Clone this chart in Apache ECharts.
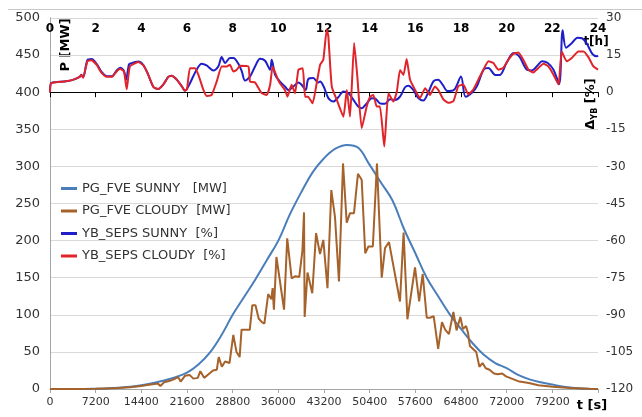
<!DOCTYPE html>
<html>
<head>
<meta charset="utf-8">
<script src="https://cdn.jsdelivr.net/npm/echarts/dist/echarts.min.js"></script>
<style>html,body{margin:0;padding:0;background:#fff}#c{width:642px;height:417px}</style>
</head>
<body>
<div id="c"></div>
<script>
// ---- data ----
var seriesNames = ['PG_FVE SUNNY   [MW]', 'PG_FVE CLOUDY  [MW]', 'YB_SEPS SUNNY  [%]', 'YB_SEPS CLOUDY  [%]'];
var secTicks = [0, 7200, 14400, 21600, 28800, 36000, 43200, 50400, 57600, 64800, 72000, 79200];
var hourTicks = [0, 2, 4, 6, 8, 10, 12, 14, 16, 18, 20, 22, 24];

var tSunny = [0,1800,3600,5400,7200,9000,10800,12600,14400,16200,18000,19800,21600,23400,25200,27000,28800,30600,32400,34200,36000,37800,39600,41400,43200,45000,46800,48600,50400,52200,54000,55800,57600,59400,61200,63000,64800,66600,68400,70200,72000,73800,75600,77400,79200,81000,82800,84600,86400];
var pgSunny = [0,0,0,0,0.3,0.8,1.6,3,5,8,11.5,16,22,33,49,72,100,124,148,174,200,235,265,292,311,324,329,325,302,278,254,216,183,150,125,101,81,62,46,35,28,19,13,9,6,3,1.5,0.5,0];

var tCloudy = [0,3600,7200,10800,12600,14400,15300,16200,17000,17400,18000,18900,19500,20200,20600,21300,22000,22600,23300,23700,24300,25000,25700,26300,26600,27100,27600,28300,28900,29400,29900,30200,31000,31500,31900,32400,32900,33400,33800,34400,34900,35100,35300,35700,36900,37400,38100,38700,39300,39800,40050,40150,40600,41350,41950,42570,43090,43750,44350,44930,45560,46200,46780,47300,47930,48550,49140,49700,50200,50900,51550,52300,52820,53450,55180,55750,56350,57550,58200,58760,59400,59900,60500,61200,61800,62300,62900,63600,64100,64700,65100,65600,65900,66200,67200,67700,68200,68700,69300,70000,70600,71300,71900,72800,74000,75500,77000,79300,82000,85000,86400];
var pgCloudy = [0,0,0.2,1.2,2.5,4,5.5,6.5,7.5,4,9,11,13,16,10,18,19,14,15,24,15,20,25,26,43,30,37,35,73,50,43,80,80,80,113,113,95,90,88,128,121,136,107,178,107,203,149,152,151,187,238,97,157,129,210,182,201,136,268,232,145,304,224,237,237,290,282,183,192,192,304,150,190,198,118,211,94,164,118,155,96,96,98,54,90,80,74,104,79,97,81,85,76,58,50,30,35,28,26,21,20,21,17,14,10,8,5,3,1.5,0.3,0];

var hYbSunny = [0,0.05,0.7,1.0,1.3,1.37,1.45,1.64,1.82,2.04,2.26,2.48,2.7,2.92,3.07,3.24,3.33,3.45,3.5,3.87,4.09,4.3,4.53,4.74,4.96,5.18,5.33,5.55,5.77,5.91,6.0,6.13,6.42,6.64,6.86,7.15,7.37,7.52,7.67,7.88,8.03,8.25,8.4,8.54,8.76,8.98,9.2,9.42,9.64,9.71,9.86,10.07,10.29,10.44,10.66,10.88,11.02,11.2,11.31,11.53,11.75,11.83,12.0,12.19,12.41,12.63,12.85,13.07,13.29,13.5,13.65,13.87,14.09,14.25,14.45,14.67,14.89,15.1,15.33,15.55,15.7,15.91,16.13,16.35,16.57,16.8,17.0,17.2,17.4,17.7,18.0,18.2,18.5,18.7,19.0,19.2,19.5,19.7,20.0,20.3,20.55,20.9,21.1,21.35,21.55,21.8,22.05,22.3,22.45,22.6,22.85,23.1,23.3,23.5,23.75,23.95,24];
var ybSunny = [0,3.7,4.4,5,6.2,7.1,6.0,13,13.4,11.5,8.2,6.5,6.4,8.8,9.9,8.6,5,11,11.5,12.4,11,7.1,2.1,1.3,3.1,6.2,6.7,5.1,2.4,0.6,1.4,3.6,9.1,11.5,10.8,8.8,10.4,14.2,11.8,13.8,13.8,11.5,8.4,4.7,6.3,10.4,13.5,12.7,9.1,13.1,7,4.3,2.3,0.9,2.3,3.9,3,0.9,5.3,5.7,3.9,4.3,2,-2.4,-3.8,-2,0.3,-0.4,-3.1,-5.8,-6.5,-4.5,-2.4,-2.6,-4.5,-4.7,-2.8,-3.2,-1.8,2,2.6,0.9,-2.4,-3.4,0,4.5,5,3,0.5,1,6.3,-1.8,0,2.5,9.3,9.8,7,7,12,15.8,14.5,9,8.8,10.8,12.5,11.8,9.1,3.3,25,18,19.8,22,21.8,19.8,15.5,14.5,14.8];

var hYbCloudy = [0,0.05,0.7,1.0,1.3,1.37,1.45,1.64,1.82,2.04,2.26,2.48,2.7,2.92,3.07,3.24,3.36,3.5,3.87,4.09,4.3,4.53,4.74,4.96,5.18,5.33,5.55,5.77,5.91,6.0,6.13,6.35,6.5,6.72,6.86,7.08,7.3,7.52,7.74,7.88,8.03,8.18,8.32,8.69,8.76,8.98,9.27,9.49,9.64,9.75,9.93,10.07,10.29,10.4,10.58,10.73,10.88,11.07,11.17,11.3,11.5,11.68,11.83,11.97,12.12,12.19,12.34,12.56,12.85,13.0,13.14,13.32,13.46,13.65,13.87,14.02,14.16,14.31,14.45,14.64,14.82,15.04,15.19,15.33,15.48,15.62,15.77,15.99,16.2,16.43,16.64,16.86,17.0,17.23,17.45,17.67,17.88,18.1,18.32,18.54,18.76,18.98,19.2,19.42,19.63,19.85,20.07,20.29,20.51,20.73,20.95,21.17,21.39,21.61,21.83,22.05,22.27,22.41,22.63,22.85,23.14,23.36,23.58,23.8,24];
var ybCloudy = [0,3.7,4.4,5,6.2,7.1,5.8,12.5,12.9,11.1,7.8,6.2,6.2,8.4,9.5,8.4,1.2,10.4,12.2,10.8,7.1,2.1,1.3,3.1,6.2,6.7,5.1,2.4,0.6,1.2,9.7,9.7,7,0.9,-1.5,-1.1,4.3,10.4,10.4,11.1,8.4,9.1,10.7,10.4,4.3,3.9,-0.4,-1.1,3,10.4,6.3,3.6,0.9,-1.8,3,-0.4,9.1,9.7,-1.8,-1.8,-4.5,3.6,11.1,13.1,25.3,22.6,2.3,-3.1,-9.9,0.9,-9.9,19.9,6.3,-14.6,-5.8,-1.8,-1.1,-5.8,-5.8,-22,-0.4,-3.8,0.3,9,7,13.4,5,0.9,-2.4,1.6,-1.1,2.3,1,-2.9,-4.3,-3.6,2.4,3.1,-0.9,1.1,5.1,9.1,12.5,11.8,9.1,9.8,13.1,15.5,16.1,13.1,9.1,8,9.8,11.5,10.4,7.1,3.1,16.5,12.5,13.8,16.5,16.5,14.2,10.4,9.1];

function zip(a, b) {
  var n = Math.min(a.length, b.length), out = [];
  for (var i = 0; i < n; i++) out.push([a[i], b[i]]);
  return out;
}

var chart = echarts.init(document.getElementById('c'), null, {renderer: 'canvas'});
var FONT = 'DejaVu Sans';
var option = {
  backgroundColor: '#fff',
  animation: false,
  grid: {left: 50, right: 44, top: 18, bottom: 28},
  legend: {
    orient: 'vertical', left: 56, top: 177,
    itemWidth: 16, itemHeight: 3, itemGap: 9.5,
    icon: 'rect',
    data: seriesNames,
    textStyle: {fontFamily: FONT, fontSize: 13, color: '#333'}
  },
  xAxis: [
    {type: 'value', position: 'bottom', min: 0, max: 86400, interval: 7200,
     axisLine: {show: true, lineStyle: {color: '#a6a6a6'}},
     axisTick: {show: true, length: 4, lineStyle: {color: '#a6a6a6'}},
     splitLine: {show: false},
     axisLabel: {fontFamily: FONT, fontSize: 11, color: '#333', margin: 8,
       formatter: function (v) { return secTicks.indexOf(v) >= 0 ? String(v) : ''; }}},
    {type: 'value', position: 'top', min: 0, max: 24, interval: 2,
     axisLine: {show: true, lineStyle: {color: '#000', width: 1.2}},
     axisTick: {show: true, inside: true, length: 5, lineStyle: {color: '#000'}},
     splitLine: {show: false},
     axisLabel: {inside: true, margin: 5, fontFamily: FONT, fontSize: 12, fontWeight: 'bold', color: '#000',
       formatter: function (v) { return hourTicks.indexOf(v) >= 0 ? String(v) : ''; }}}
  ],
  yAxis: [
    {type: 'value', position: 'left', min: 0, max: 500, interval: 50,
     axisLine: {show: true, lineStyle: {color: '#a6a6a6'}},
     axisTick: {show: false},
     splitLine: {show: true, lineStyle: {color: '#d9d9d9', width: 1}},
     axisLabel: {fontFamily: FONT, fontSize: 13, color: '#333', margin: 10}},
    {type: 'value', position: 'right', min: -120, max: 30, interval: 15,
     axisLine: {show: true, lineStyle: {color: '#a6a6a6'}},
     axisTick: {show: false},
     splitLine: {show: false},
     axisLabel: {fontFamily: FONT, fontSize: 12, color: '#333', margin: 8}}
  ],
  series: [
    {name: seriesNames[0], type: 'line', xAxisIndex: 0, yAxisIndex: 0, data: zip(tSunny, pgSunny),
     smooth: 0.4, showSymbol: false, symbol: 'none', color: '#4a7ebb', lineStyle: {width: 2, color: '#4a7ebb'}, z: 2},
    {name: seriesNames[1], type: 'line', xAxisIndex: 0, yAxisIndex: 0, data: zip(tCloudy, pgCloudy),
     smooth: false, showSymbol: false, symbol: 'none', color: '#a5622b', lineStyle: {width: 2, color: '#a5622b'}, z: 3},
    {name: seriesNames[2], type: 'line', xAxisIndex: 1, yAxisIndex: 1, data: zip(hYbSunny, ybSunny),
     smooth: 0.3, showSymbol: false, symbol: 'none', color: '#1f1fc8', lineStyle: {width: 2, color: '#1f1fc8'}, z: 4},
    {name: seriesNames[3], type: 'line', xAxisIndex: 1, yAxisIndex: 1, data: zip(hYbCloudy, ybCloudy),
     smooth: 0.15, showSymbol: false, symbol: 'none', color: '#e0242a', lineStyle: {width: 2, color: '#e0242a'}, z: 5}
  ],
  graphic: [
    {type: 'line', shape: {x1: 8, y1: 9.5, x2: 642, y2: 9.5}, style: {stroke: '#c8c8c8', lineWidth: 1}, silent: true},
    {type: 'text', x: 66, y: 45, rotation: Math.PI / 2,
     style: {text: 'P [MW]', fontFamily: FONT, fontSize: 13, fontWeight: 'bold', fill: '#000', align: 'center', verticalAlign: 'middle'}},
    {type: 'text', x: 591, y: 104, rotation: Math.PI / 2,
     style: {text: '{a|\u0394}{b|YB}{a| [%]}', fontFamily: FONT, fill: '#000', align: 'center', verticalAlign: 'middle',
       rich: {a: {fontFamily: FONT, fontSize: 13, fontWeight: 'bold', fill: '#000'},
              b: {fontFamily: FONT, fontSize: 8, fontWeight: 'bold', fill: '#000', padding: [8, 0, 0, 0]}}}},
    {type: 'text', x: 596, y: 42,
     style: {text: 't[h]', fontFamily: FONT, fontSize: 12, fontWeight: 'bold', fill: '#000', align: 'center', verticalAlign: 'middle'}},
    {type: 'text', x: 592, y: 406,
     style: {text: 't [s]', fontFamily: FONT, fontSize: 13, fontWeight: 'bold', fill: '#000', align: 'center', verticalAlign: 'middle'}}
  ]
};
chart.setOption(option);
</script>
</body>
</html>
